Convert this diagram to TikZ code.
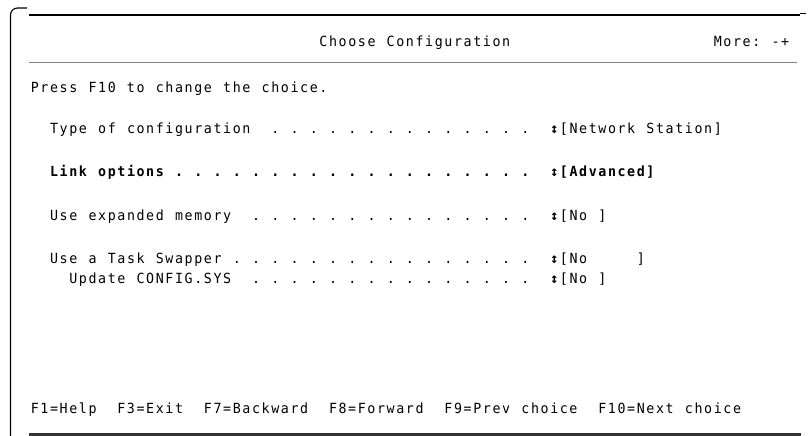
\documentclass[tikz,border=0pt]{standalone}
\usepackage{fontspec}
\newfontfamily\scrfont[FakeStretch=0.95]{DejaVu Sans Mono}
\newcommand{\cw}{9.62}
% every character in a cell of its own, as on the screen
\makeatletter
\def\mono#1{\mono@#1\@nil}
\def\mono@#1{\ifx#1\@nil\else\hbox to\cw pt{\hss#1\hss}\expandafter\mono@\fi}
\makeatother
\tikzset{
  scr/.style={inner sep=0pt, outer sep=0pt, anchor=base west,
    font=\scrfont\fontsize{14}{16}\selectfont},
  scrbold/.style={scr, font=\scrfont\fontsize{14}{16}\selectfont\bfseries},
  dotcell/.style={scr, anchor=base},
  updown/.style={inner sep=0pt, outer sep=0pt, anchor=base,
    font=\scrfont\fontsize{14}{16}\selectfont\bfseries},
  frame/.style={line width=1.1pt, black}
}
\begin{document}
\begin{tikzpicture}[x=1pt, y=-1pt]
  \useasboundingbox (0,0) rectangle (808,436);

  % window frame
  \draw[frame, rounded corners=7pt] (10.5,436) -- (10.5,8) -- (27,8);
  \draw[frame] (29,15) -- (800,15);
  \draw[frame] (800,13.5) -- (806,13.5);
  \draw[gray, line width=0.8pt] (29,62.5) -- (797,62.5);
  \draw[black!80, line width=3pt] (29,434.5) -- (801,434.5);

  % heading
  \node[scr] (title) at (30+30*\cw,46.5) {\mono{Choose~Configuration}};
  \node[scr] (more) at (30+71*\cw,46.5) {\mono{More:~-+}};
  \node[scr] (press) at (30,92.5) {\mono{Press~F10~to~change~the~choice.}};

  % choices
  \node[scr] (lab1) at (30+2*\cw,133.3) {\mono{Type~of~configuration}};
  \foreach \c in {25,27,...,51}
    \node[dotcell] (d1-\c) at (30+\c*\cw+\cw/2,133.3) {.};
  \node[updown] (arr1) at (30+54.5*\cw,133.3) {↕};
  \node[scr] (val1) at (30+55*\cw,133.3) {\mono{[Network~Station]}};

  \node[scrbold] (lab2) at (30+2*\cw,176.7) {\mono{Link~options}};
  \foreach \c in {15,17,...,51}
    \node[dotcell, scrbold, anchor=base] (d2-\c) at (30+\c*\cw+\cw/2,176.7) {.};
  \node[updown] (arr2) at (30+54.5*\cw,176.7) {↕};
  \node[scrbold] (val2) at (30+55*\cw,176.7) {\mono{[Advanced]}};

  \node[scr] (lab3) at (30+2*\cw,220) {\mono{Use~expanded~memory}};
  \foreach \c in {23,25,...,51}
    \node[dotcell] (d3-\c) at (30+\c*\cw+\cw/2,220) {.};
  \node[updown] (arr3) at (30+54.5*\cw,220) {↕};
  \node[scr] (val3) at (30+55*\cw,220) {\mono{[No~]}};

  \node[scr] (lab4) at (30+2*\cw,263.3) {\mono{Use~a~Task~Swapper}};
  \foreach \c in {21,23,...,51}
    \node[dotcell] (d4-\c) at (30+\c*\cw+\cw/2,263.3) {.};
  \node[updown] (arr4) at (30+54.5*\cw,263.3) {↕};
  \node[scr] (val4) at (30+55*\cw,263.3) {\mono{[No~~~~~]}};

  \node[scr] (lab5) at (30+4*\cw,283.3) {\mono{Update~CONFIG.SYS}};
  \foreach \c in {23,25,...,51}
    \node[dotcell] (d5-\c) at (30+\c*\cw+\cw/2,283.3) {.};
  \node[updown] (arr5) at (30+54.5*\cw,283.3) {↕};
  \node[scr] (val5) at (30+55*\cw,283.3) {\mono{[No~]}};

  % function keys
  \node[scr] (keys) at (30,413) {\mono{F1=Help~~F3=Exit~~F7=Backward~~F8=Forward~~F9=Prev~choice~~F10=Next~choice}};
\end{tikzpicture}
\end{document}
